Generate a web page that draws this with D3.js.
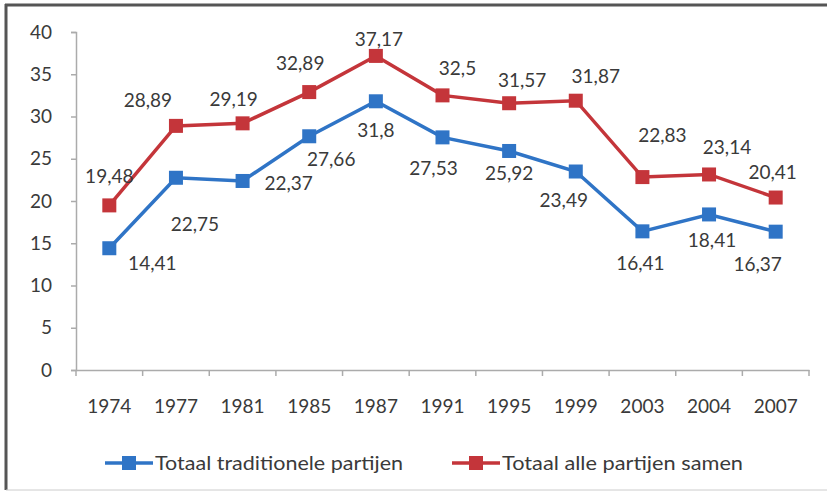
<!DOCTYPE html>
<html><head><meta charset="utf-8">
<script src="https://cdn.jsdelivr.net/npm/d3@7"></script>
<style>
html,body{margin:0;padding:0;background:#fff;}
svg{display:block;font-family:Lato, "Open Sans", sans-serif;}
</style></head>
<body>
<svg id="c" width="827" height="493"></svg>
<script>
const years = ["1974","1977","1981","1985","1987","1991","1995","1999","2003","2004","2007"];
const traditioneel = [14.41,22.75,22.37,27.66,31.8,27.53,25.92,23.49,16.41,18.41,16.37];
const alle = [19.48,28.89,29.19,32.89,37.17,32.5,31.57,31.87,22.83,23.14,20.41];
const yTicks = [0,5,10,15,20,25,30,35,40];
const seriesNames = ["Totaal traditionele partijen","Totaal alle partijen samen"];

// label nudges (layout only)
const blueNudge = [[43,15],[19,47],[46,2],[22,23],[0,29],[-9,31],[0,22],[-12,29],[-2,32],[3,26],[-18,33]];
const redNudge = [[0,-29],[-28,-26],[-9,-24],[-9,-29],[3,-17],[15,-27],[13,-23],[20,-24],[20,-42],[18,-27],[-3,-25]];

const svg = d3.select("#c");
const fmt = v => String(v).replace(".", ",");
const blue = "#2f74c6", red = "#c4353a", axisCol = "#ababab", txt = "#3a3a3a";

// frame
svg.append("line").attr("x1",6).attr("x2",6).attr("y1",4).attr("y2",490).attr("stroke","#555").attr("stroke-width",3);
svg.append("line").attr("x1",5).attr("x2",827).attr("y1",5).attr("y2",5).attr("stroke","#555").attr("stroke-width",3);
svg.append("line").attr("x1",6).attr("x2",827).attr("y1",490).attr("y2",490).attr("stroke","#ccc").attr("stroke-width",1);

const x = d3.scaleBand().domain(years).range([76,809]);
const y = d3.scaleLinear().domain([0,40]).range([370,32]);

// y axis
const ya = svg.append("g").attr("transform","translate(76,0)")
  .call(d3.axisLeft(y).tickValues(yTicks).tickSize(5).tickPadding(19).tickFormat(d3.format("d")));
ya.select(".domain").attr("stroke",axisCol).attr("stroke-width",1.5);
ya.selectAll(".tick line").attr("stroke",axisCol).attr("stroke-width",1.5);
ya.selectAll("text").attr("fill",txt).style("font-size","19px").style("font-family","Lato, sans-serif");

// x axis
const xa = svg.append("g").attr("transform","translate(0,370)")
  .call(d3.axisBottom(x).tickSize(0).tickPadding(30));
xa.select(".domain").attr("stroke",axisCol).attr("stroke-width",1.5);
xa.selectAll("text").attr("fill",txt).style("font-size","19px").style("font-family","Lato, sans-serif");
// boundary tick marks
const bounds = years.map(d => x(d)).concat([x(years[years.length-1]) + x.bandwidth()]);
xa.selectAll(".btick").data(bounds).enter().append("line")
  .attr("x1",d=>d).attr("x2",d=>d).attr("y1",0).attr("y2",6)
  .attr("stroke",axisCol).attr("stroke-width",1.5);

const cx = d => x(d) + x.bandwidth()/2;
const line = d3.line().x((d,i)=>cx(years[i])).y(d=>y(d));

function drawSeries(vals, color, nudge){
  const g = svg.append("g");
  g.append("path").datum(vals).attr("d",line).attr("fill","none").attr("stroke",color).attr("stroke-width",3.5);
  g.selectAll("rect").data(vals).enter().append("rect")
    .attr("x",(d,i)=>cx(years[i])-7).attr("y",d=>y(d)-7)
    .attr("width",14).attr("height",14).attr("fill",color);
  g.selectAll("text").data(vals).enter().append("text")
    .attr("x",(d,i)=>cx(years[i])+nudge[i][0])
    .attr("y",(d,i)=>y(d)+nudge[i][1])
    .attr("dy","0.35em").attr("text-anchor","middle")
    .attr("fill",txt).style("font-size","19px")
    .text(d=>fmt(d));
}
drawSeries(alle, red, redNudge);
drawSeries(traditioneel, blue, blueNudge);

// legend
const legend = [{name:seriesNames[0],color:blue,x:105,w:248},{name:seriesNames[1],color:red,x:452,w:241}];
const lg = svg.append("g").attr("transform","translate(0,463)");
legend.forEach(l=>{
  lg.append("line").attr("x1",l.x).attr("x2",l.x+48).attr("y1",0).attr("y2",0).attr("stroke",l.color).attr("stroke-width",3.5);
  lg.append("rect").attr("x",l.x+17).attr("y",-7).attr("width",14).attr("height",14).attr("fill",l.color);
  lg.append("text").attr("x",l.x+50).attr("y",0).attr("dy","0.35em").attr("fill",txt)
    .attr("textLength",l.w).attr("lengthAdjust","spacingAndGlyphs")
    .style("font-size","19px").text(l.name);
});
</script>
</body></html>
